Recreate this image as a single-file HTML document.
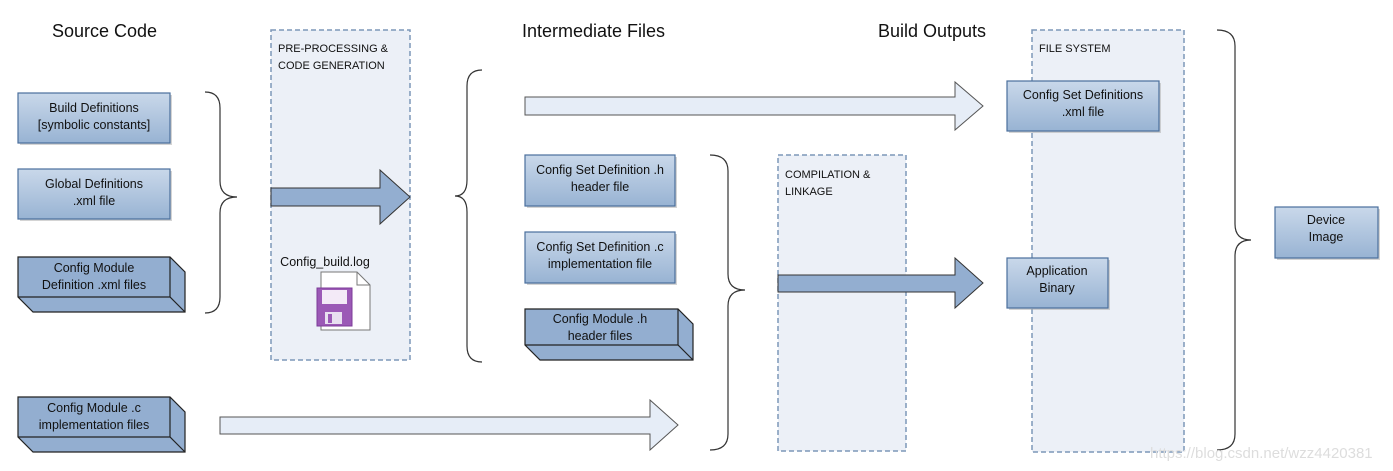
<!DOCTYPE html>
<html><head><meta charset="utf-8"><style>
html,body{margin:0;padding:0;background:#fff;}
svg{display:block;}
text{font-family:"Liberation Sans",sans-serif;fill:#111;}
</style></head><body>
<svg width="1393" height="471" viewBox="0 0 1393 471" xmlns="http://www.w3.org/2000/svg">
<defs>
<linearGradient id="g" x1="0" y1="0" x2="0" y2="1"><stop offset="0" stop-color="#c9d8ea"/><stop offset="1" stop-color="#98b3d3"/></linearGradient>
</defs>
<!-- titles -->
<text x="52" y="37" font-size="18">Source Code</text>
<text x="522" y="37" font-size="18">Intermediate Files</text>
<text x="878" y="37" font-size="18">Build Outputs</text>

<!-- panels -->
<rect x="271" y="30" width="139" height="330" fill="#ecf0f7" stroke="#7d97b8" stroke-width="1.5" stroke-dasharray="5,3"/>
<text x="278" y="52" font-size="11">PRE-PROCESSING &amp;</text>
<text x="278" y="69" font-size="11">CODE GENERATION</text>
<rect x="778" y="155" width="128" height="296" fill="#ecf0f7" stroke="#7d97b8" stroke-width="1.5" stroke-dasharray="5,3"/>
<text x="785" y="178" font-size="11">COMPILATION &amp;</text>
<text x="785" y="195" font-size="11">LINKAGE</text>
<rect x="1032" y="30" width="152" height="422" fill="#ecf0f7" stroke="#7d97b8" stroke-width="1.5" stroke-dasharray="5,3"/>
<text x="1039" y="52" font-size="11">FILE SYSTEM</text>

<!-- flat boxes -->
<g stroke="#4a6f9c" stroke-width="1.2" fill="url(#g)">
<rect x="20" y="95" width="152" height="50" fill="#aaa" stroke="none" opacity="0.5"/>
<rect x="18" y="93" width="152" height="50"/>
<rect x="20" y="171" width="152" height="50" fill="#aaa" stroke="none" opacity="0.5"/>
<rect x="18" y="169" width="152" height="50"/>
<rect x="527" y="157" width="150" height="51" fill="#aaa" stroke="none" opacity="0.5"/>
<rect x="525" y="155" width="150" height="51"/>
<rect x="527" y="234" width="150" height="51" fill="#aaa" stroke="none" opacity="0.5"/>
<rect x="525" y="232" width="150" height="51"/>
<rect x="1009" y="83" width="152" height="50" fill="#aaa" stroke="none" opacity="0.5"/>
<rect x="1007" y="81" width="152" height="50"/>
<rect x="1009" y="260" width="101" height="50" fill="#aaa" stroke="none" opacity="0.5"/>
<rect x="1007" y="258" width="101" height="50"/>
<rect x="1277" y="209" width="103" height="51" fill="#aaa" stroke="none" opacity="0.5"/>
<rect x="1275" y="207" width="103" height="51"/>
</g>
<!-- 3D boxes -->
<g stroke="#222" stroke-width="1.2" fill="#93aed0">
<polygon points="18,257 170,257 185,272 185,312 33,312 18,297"/>
<polyline points="18,297 170,297 185,312" fill="none"/><line x1="170" y1="257" x2="170" y2="297"/>
<polygon points="525,309 678,309 693,324 693,360 540,360 525,345"/>
<polyline points="525,345 678,345 693,360" fill="none"/><line x1="678" y1="309" x2="678" y2="345"/>
<polygon points="18,397 170,397 185,412 185,452 33,452 18,437"/>
<polyline points="18,437 170,437 185,452" fill="none"/><line x1="170" y1="397" x2="170" y2="437"/>
</g>
<g font-size="12.5" text-anchor="middle">
<text x="94" y="112">Build Definitions</text><text x="94" y="129">[symbolic constants]</text>
<text x="94" y="188">Global Definitions</text><text x="94" y="205">.xml file</text>
<text x="94" y="272">Config Module</text><text x="94" y="289">Definition .xml files</text>
<text x="600" y="174">Config Set Definition .h</text><text x="600" y="191">header file</text>
<text x="600" y="251">Config Set Definition .c</text><text x="600" y="268">implementation file</text>
<text x="600" y="323">Config Module .h</text><text x="600" y="340">header files</text>
<text x="94" y="412">Config Module .c</text><text x="94" y="429">implementation files</text>
<text x="1083" y="99">Config Set Definitions</text><text x="1083" y="116">.xml file</text>
<text x="1057" y="275">Application</text><text x="1057" y="292">Binary</text>
<text x="1326" y="224">Device</text><text x="1326" y="241">Image</text>
<text x="325" y="266" font-size="12.5">Config_build.log</text>
</g>

<!-- arrows -->
<polygon points="271,188 380,188 380,170 410,197 380,224 380,206 271,206" fill="#93aed0" stroke="#333" stroke-width="1"/>
<polygon points="525,97 955,97 955,82 983,106 955,130 955,115 525,115" fill="#e6edf7" stroke="#555" stroke-width="1"/>
<polygon points="778,275 955,275 955,258 983,283 955,308 955,292 778,292" fill="#93aed0" stroke="#333" stroke-width="1"/>
<polygon points="220,417 650,417 650,400 678,425 650,450 650,434 220,434" fill="#e6edf7" stroke="#555" stroke-width="1"/>

<!-- braces -->
<g fill="none" stroke="#333" stroke-width="1.2">
<path d="M205,92 Q220,92 220,108 L220,181 Q220,197 237,197 Q220,197 220,213 L220,297 Q220,313 205,313"/>
<path d="M482,70 Q467,70 467,86 L467,180 Q467,196 455,196 Q467,196 467,212 L467,346 Q467,362 482,362"/>
<path d="M710,155 Q728,155 728,171 L728,274 Q728,290 745,290 Q728,290 728,306 L728,434 Q728,450 710,450"/>
<path d="M1217,30 Q1235,30 1235,46 L1235,224 Q1235,240 1251,240 Q1235,240 1235,256 L1235,434 Q1235,450 1217,450"/>
</g>

<!-- file icon -->
<polygon points="321,272 357,272 370,285 370,330 321,330" fill="#fff" stroke="#777" stroke-width="1"/>
<polyline points="357,272 357,285 370,285" fill="none" stroke="#777"/>
<rect x="317" y="288" width="35" height="38" fill="#9b59b6" stroke="#7d3c98"/>
<rect x="322" y="290" width="25" height="14" fill="#f3eaf7"/>
<rect x="325" y="312" width="17" height="12" fill="#e8dff0"/>
<rect x="328" y="314" width="4" height="9" fill="#9b59b6"/>

<text x="1150" y="458" font-size="15" style="fill:#ddd">https://blog.csdn.net/wzz4420381</text>
</svg>
</body></html>
